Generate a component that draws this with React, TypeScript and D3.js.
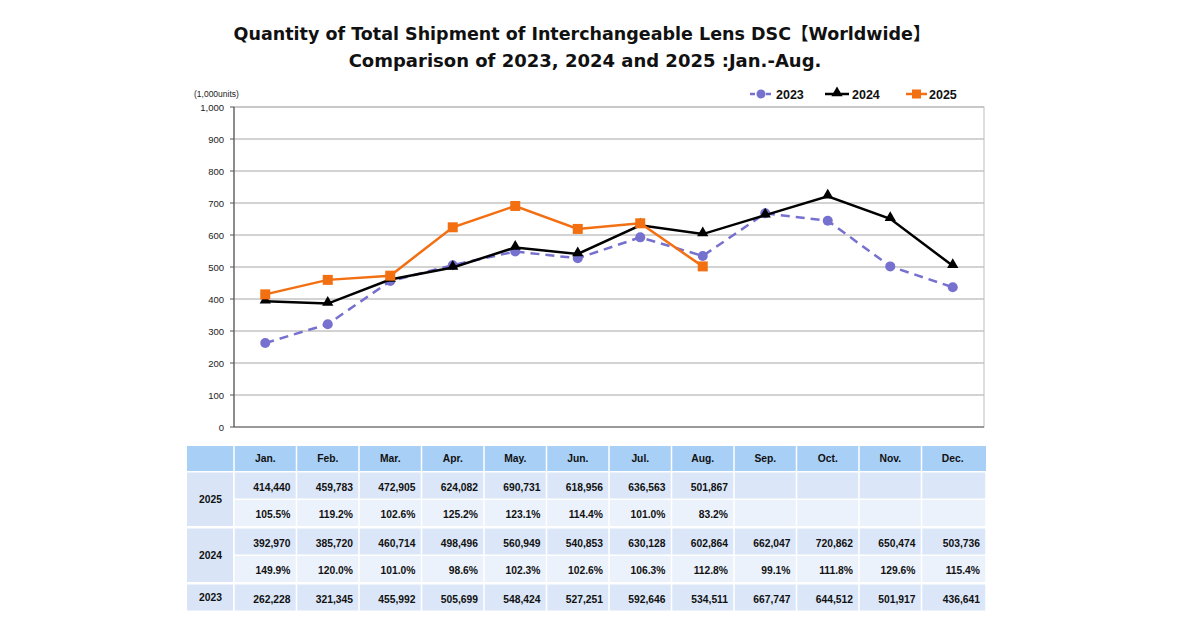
import React from "react";
import * as d3 from "d3";

const months = ["Jan.", "Feb.", "Mar.", "Apr.", "May.", "Jun.", "Jul.", "Aug.", "Sep.", "Oct.", "Nov.", "Dec."];
const ship2025 = [414440, 459783, 472905, 624082, 690731, 618956, 636563, 501867];
const pct2025 = ["105.5%", "119.2%", "102.6%", "125.2%", "123.1%", "114.4%", "101.0%", "83.2%"];
const ship2024 = [392970, 385720, 460714, 498496, 560949, 540853, 630128, 602864, 662047, 720862, 650474, 503736];
const pct2024 = ["149.9%", "120.0%", "101.0%", "98.6%", "102.3%", "102.6%", "106.3%", "112.8%", "99.1%", "111.8%", "129.6%", "115.4%"];
const ship2023 = [262228, 321345, 455992, 505699, 548424, 527251, 592646, 534511, 667747, 644512, 501917, 436641];
const yTicks = [0, 100, 200, 300, 400, 500, 600, 700, 800, 900, 1000];

const W = 1200;
const H = 628;
const plot = { left: 234, right: 984, top: 107, bottom: 427 };

const c2023 = "#7670cf";
const c2024 = "#000000";
const c2025 = "#f26f12";

const App = () => {
  const x = d3.scaleBand<string>().domain(months).range([plot.left, plot.right]);
  const y = d3.scaleLinear().domain([0, 1000]).range([plot.bottom, plot.top]);
  const cx = (i: number) => (x(months[i]) as number) + x.bandwidth() / 2;
  const line = d3
    .line<number>()
    .x((_, i) => cx(i))
    .y((d) => y(d / 1000));
  const fmt = d3.format(",");

  const tri = d3.symbol().type(d3.symbolTriangle).size(55)();

  // table rows
  const tLeft = 187;
  const tRight = 986;
  const headTop = 446;
  const headH = 25;
  const rowH = 26;
  const gap = 1.5;
  const rowTop = (r: number) => headTop + headH + gap + r * (rowH + gap) + (r >= 2 ? 1 : 0) + (r >= 4 ? 1 : 0);
  const rows = [
    { vals: ship2025.map(fmt), fill: "#dbe7f8" },
    { vals: pct2025, fill: "#ebf2fc" },
    { vals: ship2024.map(fmt), fill: "#dbe7f8" },
    { vals: pct2024, fill: "#ebf2fc" },
    { vals: ship2023.map(fmt), fill: "#dbe7f8" },
  ];
  const yearCells = [
    { label: "2025", r0: 0, r1: 1 },
    { label: "2024", r0: 2, r1: 3 },
    { label: "2023", r0: 4, r1: 4 },
  ];
  const cellLeft = (i: number) => x(months[i]) as number;
  const cellW = (i: number) => (i === months.length - 1 ? tRight - cellLeft(i) : x.bandwidth());

  const tableFont = "'Liberation Sans', Arial, sans-serif";

  return (
    <svg width={W} height={H} style={{ position: "absolute", left: 0, top: 0, background: "#fff" }}>
      <g fontFamily="'DejaVu Sans', Verdana, 'Noto Sans CJK JP', sans-serif" fontWeight="bold" fontSize={17.5} textAnchor="middle" fill="#111">
        <text x={582} y={40}>Quantity of Total Shipment of Interchangeable Lens DSC【Worldwide】</text>
        <text x={585} y={67} fontSize={18}>Comparison of 2023, 2024 and 2025 :Jan.-Aug.</text>
      </g>

      {/* plot area */}
      <g>
        {yTicks.slice(1).map((t) => (
          <line key={t} x1={plot.left} x2={plot.right} y1={y(t)} y2={y(t)} stroke="#a6a6a6" strokeWidth={1} />
        ))}
        <rect x={plot.left} y={plot.top} width={plot.right - plot.left} height={plot.bottom - plot.top} fill="none" stroke="#bdbdbd" strokeWidth={1} />
        <line x1={plot.left} x2={plot.left} y1={plot.top} y2={plot.bottom} stroke="#555" strokeWidth={1.2} />
        <line x1={plot.left} x2={plot.right} y1={plot.bottom} y2={plot.bottom} stroke="#555" strokeWidth={1.2} />
        {yTicks.map((t) => (
          <line key={"tk" + t} x1={plot.left - 4} x2={plot.left} y1={y(t)} y2={y(t)} stroke="#555" strokeWidth={1} />
        ))}
        <g fontFamily="'Liberation Sans', Arial, sans-serif" fontSize={9.5} textAnchor="end" fill="#222">
          {yTicks.map((t) => (
            <text key={"yl" + t} x={224} y={y(t) + 3.5}>
              {fmt(t)}
            </text>
          ))}
        </g>
        <text x={194} y={97} fontFamily="'Liberation Sans', Arial, sans-serif" fontSize={8.5} fill="#222">
          (1,000units)
        </text>
      </g>

      {/* series */}
      <path d={line(ship2023) as string} fill="none" stroke={c2023} strokeWidth={2.5} strokeDasharray="9,6" />
      {ship2023.map((d, i) => (
        <circle key={"a" + i} cx={cx(i)} cy={y(d / 1000)} r={5} fill={c2023} />
      ))}
      <path d={line(ship2024) as string} fill="none" stroke={c2024} strokeWidth={2.5} />
      {ship2024.map((d, i) => (
        <path key={"b" + i} d={tri as string} transform={`translate(${cx(i)},${y(d / 1000) - 1})`} fill={c2024} />
      ))}
      <path d={line(ship2025) as string} fill="none" stroke={c2025} strokeWidth={2.5} />
      {ship2025.map((d, i) => (
        <rect key={"c" + i} x={cx(i) - 5} y={y(d / 1000) - 5} width={10} height={10} fill={c2025} />
      ))}

      {/* legend */}
      <g fontFamily="'Liberation Sans Narrow', 'Liberation Sans', Arial, sans-serif" fontWeight="bold" fontSize={12.5} fill="#111">
        <line x1={750} x2={772} y1={94} y2={94} stroke={c2023} strokeWidth={2.5} strokeDasharray="5,3" />
        <circle cx={761} cy={94} r={4.5} fill={c2023} />
        <text x={776} y={98.5}>2023</text>
        <line x1={825} x2={849} y1={94} y2={94} stroke={c2024} strokeWidth={2.5} />
        <path d={tri as string} transform="translate(837,93)" fill={c2024} />
        <text x={852} y={98.5}>2024</text>
        <line x1={906} x2={927} y1={94} y2={94} stroke={c2025} strokeWidth={2.5} />
        <rect x={912} y={89.5} width={9} height={9} fill={c2025} />
        <text x={929} y={98.5}>2025</text>
      </g>

      {/* table */}
      <g fontFamily={tableFont} fontWeight="bold" fontSize={10.3} fill="#111">
        <rect x={tLeft} y={headTop} width={tRight - tLeft} height={headH} fill="#a8cff6" />
        {months.map((m, i) => (
          <g key={"h" + m}>
            <line x1={cellLeft(i)} x2={cellLeft(i)} y1={headTop} y2={headTop + headH} stroke="#fff" strokeWidth={1.5} />
            <text x={cx(i)} y={headTop + 16} textAnchor="middle">
              {m}
            </text>
          </g>
        ))}
        {yearCells.map((yc) => {
          const top = rowTop(yc.r0);
          const bot = rowTop(yc.r1) + rowH;
          return (
            <g key={yc.label}>
              <rect x={tLeft} y={top} width={plot.left - tLeft - 1} height={bot - top} fill="#d9e5f7" />
              <text x={(tLeft + plot.left) / 2} y={(top + bot) / 2 + 3.5} textAnchor="middle">
                {yc.label}
              </text>
            </g>
          );
        })}
        {rows.map((row, r) => (
          <g key={"r" + r}>
            {months.map((m, i) => (
              <g key={m}>
                <rect x={cellLeft(i) + 0.75} y={rowTop(r)} width={cellW(i) - 1.5} height={rowH} fill={row.fill} />
                {row.vals[i] !== undefined && (
                  <text x={cellLeft(i) + cellW(i) - 6} y={rowTop(r) + rowH / 2 + 5} textAnchor="end">
                    {row.vals[i]}
                  </text>
                )}
              </g>
            ))}
          </g>
        ))}
      </g>
    </svg>
  );
};

export default App;
